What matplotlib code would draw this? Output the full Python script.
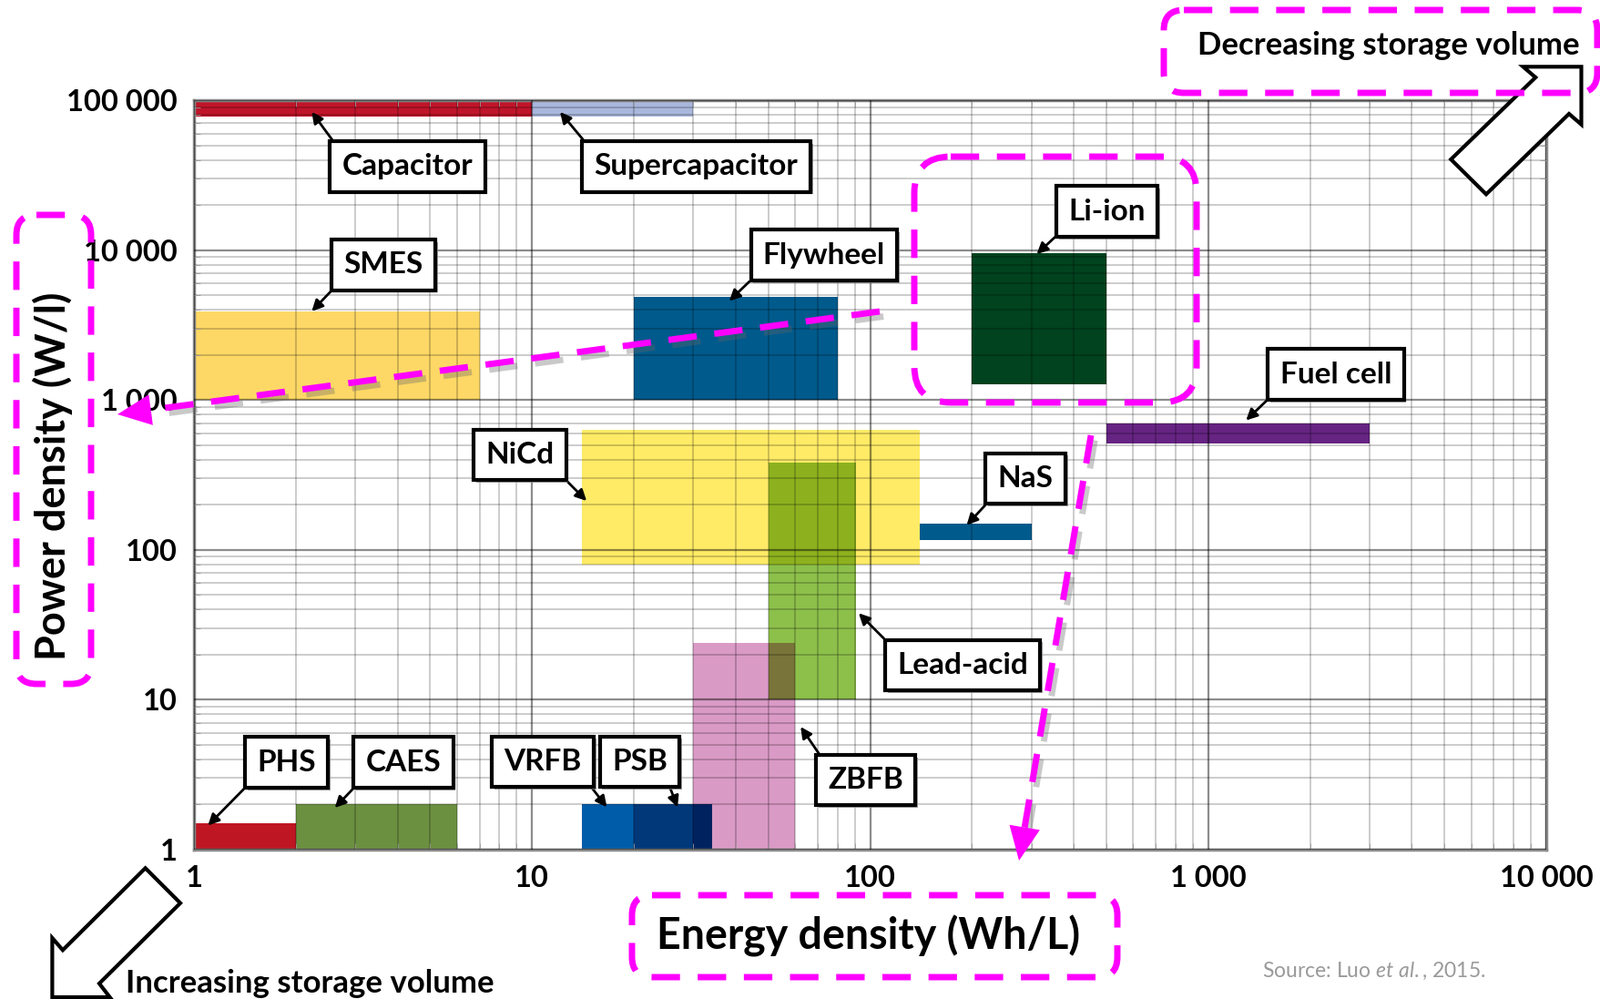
import numpy as np
import matplotlib
matplotlib.use('Agg')
import matplotlib.pyplot as plt
import matplotlib.colors as mcolors
import matplotlib.patheffects as pe
import matplotlib.transforms as mtransforms
from matplotlib.patches import Rectangle, FancyBboxPatch, Polygon, FancyArrowPatch
from matplotlib.lines import Line2D
from matplotlib.ticker import LogLocator, NullFormatter

plt.rcParams['font.family'] = ['Lato', 'DejaVu Sans']
plt.rcParams['font.weight'] = 'bold'
plt.rcParams['mathtext.fontset'] = 'custom'
plt.rcParams['mathtext.rm'] = 'Lato:normal'
plt.rcParams['mathtext.it'] = 'Lato:italic:normal'

# --- data (energy density Wh/L, power density W/l) ---
techs = ['Capacitor', 'Supercapacitor', 'SMES', 'Flywheel', 'Li-ion', 'Fuel cell',
         'NiCd', 'NaS', 'Lead-acid', 'ZBFB', 'PHS', 'CAES', 'VRFB', 'PSB']
energy_lo = [1, 10, 1, 20, 200, 500, 14, 140, 50, 30, 1, 2, 14, 20]
energy_hi = [10, 30, 7, 80, 500, 3000, 140, 300, 91, 60, 2, 6, 20, 34]
power_lo = [78000, 78000, 1000, 1000, 1270, 510, 80, 117, 10, 1, 1, 1, 1, 1]
power_hi = [100000, 100000, 3900, 4900, 9500, 700, 630, 150, 380, 24, 1.5, 2, 2, 2]
colors = ['#C0152A', '#A9B7DC', '#FDD866', '#005A8C', '#00431E', '#662483',
          '#FFEB66', '#005A8C', '#8DC04A', '#DA9AC6', '#BE1622', '#6B9040',
          '#005CA8', '#00387A']

x_ticks = [1, 10, 100, 1000, 10000]
x_tick_labels = ['1', '10', '100', '1 000', '10 000']
y_ticks = [1, 10, 100, 1000, 10000, 100000]
y_tick_labels = ['1', '10', '100', '1 000', '10 000', '100 000']

# --- label boxes: centre, arrow tip, corner the arrow leaves from ---
label_x = [4.28, 30.6, 3.63, 73.1, 502, 2386, 9.2, 288, 188, 97, 1.877, 4.16, 10.77, 20.8]
label_y = [36130, 36130, 7970, 9250, 18140, 1479, 430, 299, 17.0, 2.91, 3.82, 3.82, 3.86, 3.86]
tip_x = [2.23, 12.1, 2.23, 38.3, 311, 1294, 14.5, 193, 92.5, 62.3, 1.10, 2.61, 16.65, 26.95]
tip_y = [83500, 83500, 3900, 4570, 9400, 731, 212, 146, 37.8, 6.6, 1.45, 1.90, 1.92, 1.92]
arrow_root = [(0, 1), (0, 1), (0, 0), (0, 0), (0, 0), (0, 0), (1, 0), (0, 0),
              (0, 1), (0, 1), (0, 0), (0, 0), (1, 0), (0.96, 0)]

W, H = 1757, 1097
fig = plt.figure(figsize=(W / 100, H / 100), dpi=100)
ax = fig.add_axes([213 / W, 1 - 933 / H, (1698 - 213) / W, (933 - 110) / H])
ax.set_xscale('log')
ax.set_yscale('log')
ax.set_xlim(1, 10000)
ax.set_ylim(1, 100000)

# rectangles
for i in range(len(techs)):
    ax.add_patch(Rectangle((energy_lo[i], power_lo[i]),
                           energy_hi[i] - energy_lo[i], power_hi[i] - power_lo[i],
                           facecolor=colors[i], edgecolor='none', zorder=1))

# overlaps look multiplied in the original
rgb = [np.array(mcolors.to_rgb(c)) for c in colors]
for i in range(len(techs)):
    for j in range(i + 1, len(techs)):
        x0, x1 = max(energy_lo[i], energy_lo[j]), min(energy_hi[i], energy_hi[j])
        y0, y1 = max(power_lo[i], power_lo[j]), min(power_hi[i], power_hi[j])
        if x0 < x1 and y0 < y1:
            ax.add_patch(Rectangle((x0, y0), x1 - x0, y1 - y0,
                                   facecolor=rgb[i] * rgb[j], edgecolor='none', zorder=1.5))

# grid on top of the fills
ax.set_axisbelow(False)
for axis in (ax.xaxis, ax.yaxis):
    axis.set_minor_locator(LogLocator(base=10, subs=np.arange(2, 10), numticks=20))
    axis.set_minor_formatter(NullFormatter())
ax.grid(which='major', color='black', alpha=0.45, lw=1.6)
ax.grid(which='minor', color='black', alpha=0.2, lw=1.4)

ax.set_xticks(x_ticks, labels=x_tick_labels)
ax.set_yticks(y_ticks, labels=y_tick_labels)
ax.tick_params(which='major', length=0, labelsize=23.5, colors='black')
ax.tick_params(axis='x', which='major', pad=12)
ax.tick_params(axis='y', which='major', pad=13)
ax.tick_params(which='minor', direction='in', length=5, color='#999999',
               top=True, right=True, bottom=True, left=True)
for sp in ax.spines.values():
    sp.set_color('#8a8a8a')
    sp.set_linewidth(2.5)

# labelled boxes with arrows
for i in range(len(techs)):
    ann = ax.annotate(techs[i], xy=(tip_x[i], tip_y[i]), xytext=(label_x[i], label_y[i]),
                      ha='center', va='center', fontsize=24, zorder=5,
                      bbox=dict(boxstyle='square,pad=0.4', fc='white', ec='black', lw=3),
                      arrowprops=dict(arrowstyle='-|>', color='black', lw=2,
                                      mutation_scale=18, shrinkA=0, shrinkB=0,
                                      relpos=arrow_root[i]))
    ann.get_bbox_patch().set_path_effects(
        [pe.SimplePatchShadow(offset=(2, -2), shadow_rgbFace='#888888', alpha=0.8), pe.Normal()])

# pixel transform (origin top-left)
px = mtransforms.Affine2D().scale(1 / W, -1 / H).translate(0, 1) + fig.transFigure

MAG = '#FF00FF'


def dashed_box(x0, y0, x1, y1, r=22):
    fig.add_artist(FancyBboxPatch((x0, y0), x1 - x0, y1 - y0,
                                  boxstyle=f'round,pad=0,rounding_size={r}',
                                  transform=px, fc='none', ec=MAG, lw=5,
                                  linestyle=(0, (4.5, 2.8)), zorder=6))


def dashed_arrow(x0, y0, x1, y1):
    v = np.array([x1 - x0, y1 - y0], float)
    v /= np.hypot(*v)
    xe, ye = x1 - v[0] * 25, y1 - v[1] * 25
    fig.add_artist(Line2D([x0, xe], [y0, ye], transform=px, color=MAG, lw=5,
                          linestyle=(0, (4.5, 2.8)), zorder=6,
                          path_effects=[pe.SimpleLineShadow(offset=(3, -4), shadow_color='#666666', alpha=0.35),
                                        pe.Normal()]))
    fig.add_artist(FancyArrowPatch((xe - v[0] * 4, ye - v[1] * 4), (x1, y1), transform=px,
                                   arrowstyle='-|>,head_length=0.7,head_width=0.32',
                                   mutation_scale=38, color=MAG,
                                   lw=0, shrinkA=0, shrinkB=0, zorder=6))


dashed_box(18, 236, 100, 751)
dashed_box(694, 983, 1227, 1073)
dashed_box(1278, 11, 1754, 102)
dashed_box(1004, 172, 1314, 442, r=40)
dashed_arrow(966, 342, 129, 455)
dashed_arrow(1198, 478, 1119, 945)

# hollow block arrows
up_arrow = [(1736.5, 73.3), (1736.5, 136.7), (1723, 125), (1632, 213.3),
            (1593.3, 175), (1686.2, 85), (1672.6, 73.3)]
down_arrow = [(57.4, 1095), (120.6, 1095), (109, 1080), (198, 991.7),
              (159.6, 953.3), (68.9, 1043.3), (57.4, 1030)]
for pts in (up_arrow, down_arrow):
    fig.add_artist(Polygon(pts, closed=True, transform=px, fc='white', ec='black',
                           lw=3, zorder=5))

# texts
fig.text(58 / W, 1 - 523 / H, 'Power density (W/l)', rotation=90, ha='center',
         va='center', fontsize=32.5)
fig.text(954 / W, 1 - 1028 / H, 'Energy density (Wh/L)', ha='center', va='center', fontsize=33.5)
fig.text(1525 / W, 1 - 50 / H, 'Decreasing storage volume', ha='center', va='center', fontsize=25)
fig.text(340 / W, 1 - 1080 / H, 'Increasing storage volume', ha='center', va='center', fontsize=25)
fig.text(1509 / W, 1 - 1066 / H, r'Source: Luo $et\ al.$, 2015.', ha='center', va='center',
         fontsize=16.5, color='#9a9a9a', fontweight='normal')

fig.savefig('out.png', dpi=100)
